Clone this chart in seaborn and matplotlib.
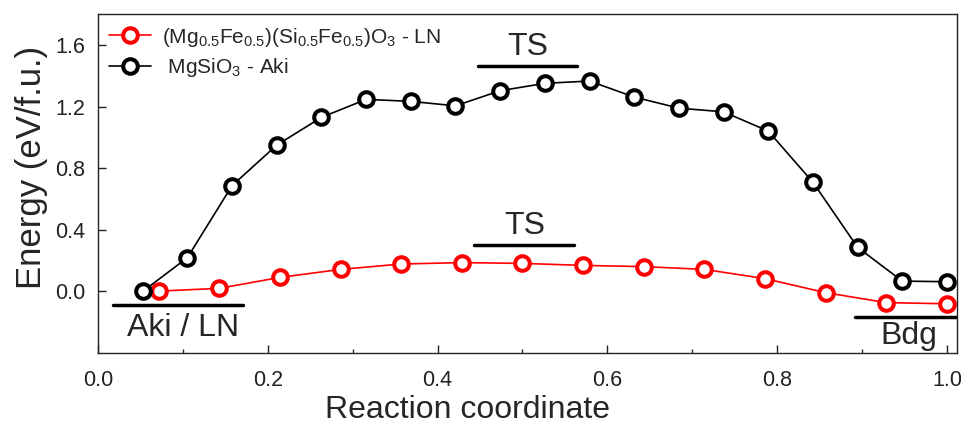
import matplotlib
matplotlib.use("Agg")
import matplotlib.pyplot as plt
import seaborn as sns
import pandas as pd
import numpy as np
from matplotlib.ticker import MultipleLocator

# ---- data ----
aki_x = [i / 19 for i in range(1, 20)]
aki_y = [0.0, 0.219, 0.687, 0.95, 1.13, 1.247, 1.234, 1.205, 1.303, 1.351,
         1.366, 1.262, 1.19, 1.166, 1.041, 0.709, 0.286, 0.067, 0.063]
ln_x = [i / 14 for i in range(1, 15)]
ln_y = [0.002, 0.02, 0.091, 0.143, 0.178, 0.187, 0.182, 0.169, 0.161,
        0.143, 0.083, -0.008, -0.073, -0.08]
ln_label = r'(Mg$_{0.5}$Fe$_{0.5}$)(Si$_{0.5}$Fe$_{0.5}$)O$_3$ - LN'
aki_label = r' MgSiO$_3$ - Aki'
xticks = [0.0, 0.2, 0.4, 0.6, 0.8, 1.0]
yticks = [0.0, 0.4, 0.8, 1.2, 1.6]

sns.set_theme(style="ticks")
plt.rcParams['font.family'] = ['Liberation Sans', 'DejaVu Sans']
plt.rcParams['mathtext.fontset'] = 'custom'
plt.rcParams['mathtext.rm'] = 'Liberation Sans'
plt.rcParams['mathtext.it'] = 'Liberation Sans:italic'
plt.rcParams['mathtext.bf'] = 'Liberation Sans:bold'

fig = plt.figure(figsize=(9.61, 4.30), dpi=100)
ax = fig.add_axes([0.102, 0.179, 0.894, 0.788])

df_ln = pd.DataFrame({"x": ln_x, "y": ln_y})
df_aki = pd.DataFrame({"x": aki_x, "y": aki_y})

common = dict(marker='o', markersize=10.5, markerfacecolor='white',
              markeredgewidth=2.9, linewidth=1.2, sort=False, ax=ax)
sns.lineplot(data=df_ln, x="x", y="y", color='#ff0000',
             markeredgecolor='#ff0000', label=ln_label, **common)
sns.lineplot(data=df_aki, x="x", y="y", color='black',
             markeredgecolor='black', label=aki_label, **common)

ax.set_xlim(0, 1.012)
ax.set_ylim(-0.4, 1.8)
ax.set_xticks(xticks)
ax.set_xticklabels([f"{t:.1f}" for t in xticks])
ax.set_yticks(yticks)
ax.set_yticklabels([f"{t:.1f}" for t in yticks])
ax.xaxis.set_minor_locator(MultipleLocator(0.1))
ax.tick_params(axis='both', which='major', direction='in', length=6,
               width=1, labelsize=15.5, colors='#222222', pad=9)
ax.tick_params(axis='x', which='major', pad=12)
ax.tick_params(axis='x', which='minor', direction='in', length=3, width=1)
ax.tick_params(axis='y', which='both', right=False)
ax.tick_params(axis='x', which='both', top=False)
for s in ax.spines.values():
    s.set_visible(True)
    s.set_linewidth(1.0)
    s.set_color('#222222')

ax.set_xlabel("Reaction coordinate", fontsize=23)
ax.set_ylabel("Energy (eV/f.u.)", fontsize=25)
ax.xaxis.set_label_coords(0.43, -0.125)
ax.yaxis.set_label_coords(-0.058, 0.549)

# annotations
lw = 2.5
ax.plot([0.018, 0.171], [-0.09, -0.09], color='black', lw=lw)
ax.text(0.1, -0.235, "Aki / LN", fontsize=23, ha='center', va='center')
ax.plot([0.447, 0.564], [1.463, 1.463], color='black', lw=lw)
ax.text(0.506, 1.59, "TS", fontsize=23, ha='center', va='center')
ax.plot([0.443, 0.561], [0.299, 0.299], color='black', lw=lw)
ax.text(0.503, 0.425, "TS", fontsize=23, ha='center', va='center')
ax.plot([0.892, 1.012], [-0.163, -0.163], color='black', lw=lw)
ax.text(0.955, -0.29, "Bdg", fontsize=23, ha='center', va='center')

leg = ax.legend(loc='upper left', bbox_to_anchor=(0.0, 1.0), frameon=False,
                fontsize=15, handlelength=2.0, handletextpad=0.5,
                labelspacing=0.35, borderaxespad=0.15)

fig.savefig("out.png", dpi=100)
